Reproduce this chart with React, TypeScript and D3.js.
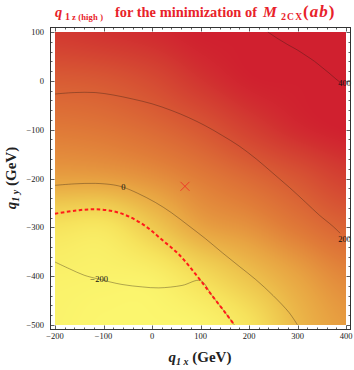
import { useEffect, useRef } from 'react';
import * as d3 from 'd3';

// axis ranges and ticks
const xDomain = [-200, 400];
const yDomain = [-500, 100];
const xTicks = [-200, -100, 0, 100, 200, 300, 400];
const yTicks = [100, 0, -100, -200, -300, -400, -500];

// colour level (0 = yellow, 1 = red) on a 100 GeV grid, rows from qy=100 down to qy=-500
const heatX = [-200, -100, 0, 100, 200, 300, 400];
const heatY = [100, 0, -100, -200, -300, -400, -500];
const heatRows = [
  [0.9, 0.93, 0.96, 1.0, 1.0, 1.0, 1.0],
  [0.74, 0.76, 0.82, 0.92, 0.99, 1.0, 1.0],
  [0.61, 0.63, 0.68, 0.76, 0.87, 0.96, 1.0],
  [0.46, 0.47, 0.52, 0.6, 0.68, 0.77, 0.87],
  [0.14, 0.12, 0.28, 0.45, 0.52, 0.62, 0.71],
  [0.04, 0.03, 0.05, 0.18, 0.32, 0.45, 0.56],
  [0.02, 0.0, 0.0, 0.02, 0.14, 0.36, 0.48],
];
const colorStops = [0, 0.15, 0.3, 0.45, 0.6, 0.75, 0.9, 1];
const colorRange = ['#fbf66e', '#f6e25c', '#eec64e', '#e8a442', '#e07c38', '#d85a34', '#d23a31', '#d0202f'];

// contour lines (qx, qy)
const contour400 = [[239, 100], [260, 86], [280, 74], [300, 63], [317, 52], [335, 40], [350, 28], [365, 16], [379, 4], [388, -3]];
const contour200 = [[-200, -27], [-160, -24], [-117, -24], [-80, -29], [-41, -37], [0, -47], [41, -61], [75, -75], [110, -92], [145, -112], [179, -133], [215, -160], [248, -188], [283, -218], [317, -249], [345, -275], [372, -297], [388, -312]];
const contour0 = [[-200, -214], [-160, -211], [-117, -210], [-80, -213], [-59, -218], [-30, -230], [7, -249], [40, -270], [76, -297], [110, -323], [145, -352], [180, -380], [214, -407], [250, -440], [283, -475], [300, -500]];
const contourM200 = [[-200, -371], [-170, -385], [-140, -398], [-110, -406], [-62, -417], [-20, -422], [14, -424], [62, -419], [100, -409], [124, -440], [152, -476], [170, -500]];
const dashedCurve = [[-200, -272], [-160, -266], [-120, -263], [-80, -267], [-45, -279], [-10, -300], [20, -325], [55, -355], [90, -396], [124, -440], [152, -476], [170, -500]];
const contourLabels = [
  { text: '400', x: 397, y: -5 },
  { text: '200', x: 397, y: -324 },
  { text: '0', x: -59, y: -217 },
  { text: '\u2212200', x: -109, y: -405 },
];
const marker = [68, -216];

const fmt = (v: number) => (v < 0 ? '\u2212' + Math.abs(v) : String(v));

const catmull = (p0: number, p1: number, p2: number, p3: number, t: number) =>
  0.5 * (2 * p1 + (-p0 + p2) * t + (2 * p0 - 5 * p1 + 4 * p2 - p3) * t * t + (-p0 + 3 * p1 - 3 * p2 + p3) * t * t * t);

const App = () => {
  const chartRef = useRef<SVGSVGElement>(null);

  useEffect(() => {
    const svg = d3.select(chartRef.current);
    svg.selectAll('*').remove();

    const x = d3.scaleLinear().domain(xDomain).range([55, 346]);
    const y = d3.scaleLinear().domain(yDomain).range([325, 32]);
    const color = d3.scaleLinear<string>().domain(colorStops).range(colorRange).interpolate(d3.interpolateRgb);

    // background density image
    const w = 291, h = 293;
    const canvas = document.createElement('canvas');
    canvas.width = w;
    canvas.height = h;
    const ctx = canvas.getContext('2d')!;
    const img = ctx.createImageData(w, h);
    const nx = heatX.length, ny = heatY.length;
    const g = (r: number, c: number) =>
      heatRows[Math.max(0, Math.min(ny - 1, r))][Math.max(0, Math.min(nx - 1, c))];
    const step = heatX[1] - heatX[0];
    for (let j = 0; j < h; j++) {
      const qy = y.invert(32 + j + 0.5);
      const v = (heatY[0] - qy) / step;
      const r = Math.max(0, Math.min(ny - 2, Math.floor(v)));
      const tv = v - r;
      for (let i = 0; i < w; i++) {
        const qx = x.invert(55 + i + 0.5);
        const u = (qx - heatX[0]) / step;
        const c = Math.max(0, Math.min(nx - 2, Math.floor(u)));
        const tu = u - c;
        const rowVals = [-1, 0, 1, 2].map((dr) =>
          catmull(g(r + dr, c - 1), g(r + dr, c), g(r + dr, c + 1), g(r + dr, c + 2), tu)
        );
        let t = catmull(rowVals[0], rowVals[1], rowVals[2], rowVals[3], tv);
        t = Math.max(0, Math.min(1, t));
        const col = d3.rgb(color(t));
        const k = (j * w + i) * 4;
        img.data[k] = col.r;
        img.data[k + 1] = col.g;
        img.data[k + 2] = col.b;
        img.data[k + 3] = 255;
      }
    }
    ctx.putImageData(img, 0, 0);
    svg.append('image')
      .attr('x', 55).attr('y', 32).attr('width', w).attr('height', h)
      .attr('preserveAspectRatio', 'none')
      .attr('href', canvas.toDataURL());

    const line = d3.line<number[]>().x((d) => x(d[0])).y((d) => y(d[1])).curve(d3.curveCatmullRom);

    [contour400, contour200, contour0, contourM200].forEach((c) => {
      svg.append('path').attr('d', line(c)).attr('fill', 'none')
        .attr('stroke', '#2a1a10').attr('stroke-opacity', 0.45).attr('stroke-width', 0.8);
    });

    svg.append('path').attr('d', line(dashedCurve)).attr('fill', 'none')
      .attr('stroke', '#ff1a1a').attr('stroke-width', 2).attr('stroke-dasharray', '3.5,2.5');

    svg.selectAll('text.clabel').data(contourLabels).enter().append('text')
      .attr('class', 'clabel')
      .attr('x', (d) => x(d.x)).attr('y', (d) => y(d.y) + 3)
      .attr('text-anchor', 'middle')
      .attr('font-family', 'Liberation Serif').attr('font-size', 8.5).attr('fill', '#111')
      .text((d) => d.text);

    // marker
    const mx = x(marker[0]), my = y(marker[1]), s = 4.5;
    svg.append('path')
      .attr('d', `M${mx - s},${my - s}L${mx + s},${my + s}M${mx - s},${my + s}L${mx + s},${my - s}`)
      .attr('stroke', '#ee3a2a').attr('stroke-width', 1).attr('fill', 'none');

    // frame
    const fx0 = 50.5, fx1 = 350.5, fy0 = 27.5, fy1 = 329.5;
    svg.append('rect').attr('x', fx0).attr('y', fy0).attr('width', fx1 - fx0).attr('height', fy1 - fy0)
      .attr('fill', 'none').attr('stroke', '#333').attr('stroke-width', 1);

    const ticks = svg.append('g').attr('stroke', '#333').attr('stroke-width', 0.8);
    d3.range(xDomain[0], xDomain[1] + 1, 20).forEach((v) => {
      const len = v % 100 === 0 ? 4 : 2;
      const px = Math.round(x(v)) + 0.5;
      ticks.append('line').attr('x1', px).attr('x2', px).attr('y1', fy1).attr('y2', fy1 - len);
      ticks.append('line').attr('x1', px).attr('x2', px).attr('y1', fy0).attr('y2', fy0 + len);
    });
    d3.range(yDomain[0], yDomain[1] + 1, 20).forEach((v) => {
      const len = v % 100 === 0 ? 4 : 2;
      const py = Math.round(y(v)) + 0.5;
      ticks.append('line').attr('y1', py).attr('y2', py).attr('x1', fx0).attr('x2', fx0 + len);
      ticks.append('line').attr('y1', py).attr('y2', py).attr('x1', fx1).attr('x2', fx1 - len);
    });

    svg.selectAll('text.xt').data(xTicks).enter().append('text')
      .attr('class', 'xt').attr('x', (d) => x(d)).attr('y', 339)
      .attr('text-anchor', 'middle').attr('font-family', 'Liberation Serif').attr('font-size', 8.5).attr('fill', '#222')
      .text((d) => fmt(d));
    svg.selectAll('text.yt').data(yTicks).enter().append('text')
      .attr('class', 'yt').attr('x', 44).attr('y', (d) => y(d) + 3)
      .attr('text-anchor', 'end').attr('font-family', 'Liberation Serif').attr('font-size', 8.5).attr('fill', '#222')
      .text((d) => fmt(d));

    // title, pieces placed to span the same width as the original
    const title = svg.append('text').attr('y', 17)
      .attr('font-family', 'Liberation Serif').attr('font-weight', 'bold').attr('font-size', 14.4).attr('fill', '#e8222a')
      .attr('lengthAdjust', 'spacingAndGlyphs');
    title.append('tspan').attr('x', 55).attr('font-style', 'italic').text('q');
    title.append('tspan').attr('x', 65).attr('font-size', 10).attr('dy', 3).text('1');
    title.append('tspan').attr('x', 72).attr('font-size', 8.5).attr('textLength', 31).text('z (high )');
    title.append('tspan').attr('x', 115).attr('dy', -3).attr('textLength', 142).text('for the minimization of');
    title.append('tspan').attr('x', 263).attr('font-style', 'italic').attr('font-size', 15.5).text('M');
    title.append('tspan').attr('x', 281).attr('font-size', 10).attr('dy', 3).text('2');
    title.append('tspan').attr('x', 287).attr('font-size', 9.5).attr('textLength', 15).text('CX');
    title.append('tspan').attr('x', 303).attr('dy', -3).attr('font-size', 17).attr('letter-spacing', 1).text('(');
    title.append('tspan').attr('font-style', 'italic').attr('font-size', 17).attr('letter-spacing', 1).text('ab');
    title.append('tspan').attr('font-size', 17).text(')');

    // axis titles
    const xl = svg.append('text').attr('x', 200).attr('y', 362).attr('text-anchor', 'middle')
      .attr('font-family', 'Liberation Serif').attr('font-weight', 'bold').attr('font-size', 15).attr('fill', '#222');
    xl.append('tspan').attr('font-style', 'italic').text('q');
    xl.append('tspan').attr('font-style', 'italic').attr('font-size', 10).attr('dy', 3).text('1 x');
    xl.append('tspan').attr('dy', -3).text(' (GeV)');

    const yl = svg.append('text').attr('transform', 'translate(16,178) rotate(-90)').attr('text-anchor', 'middle')
      .attr('font-family', 'Liberation Serif').attr('font-weight', 'bold').attr('font-size', 15).attr('fill', '#222');
    yl.append('tspan').attr('font-style', 'italic').text('q');
    yl.append('tspan').attr('font-style', 'italic').attr('font-size', 10).attr('dy', 3).text('1 y');
    yl.append('tspan').attr('dy', -3).text(' (GeV)');

    return () => {
      d3.select(chartRef.current).selectAll('*').remove();
    };
  }, []);

  return (
    <svg ref={chartRef} width={354} height={370} style={{ position: 'absolute', left: 0, top: 0, background: '#fff' }} />
  );
};

export default App;
